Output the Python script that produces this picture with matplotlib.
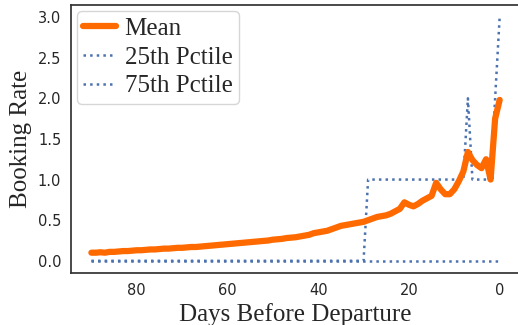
import matplotlib
matplotlib.use("Agg")
import matplotlib.pyplot as plt
import seaborn as sns

# days before departure, 90 down to 0
days = list(range(90, -1, -1))

mean_rate = [
    0.10, 0.10, 0.105, 0.10, 0.11, 0.11, 0.115, 0.12, 0.12, 0.125,   # 90-81
    0.13, 0.13, 0.135, 0.14, 0.14, 0.145, 0.15, 0.15, 0.155, 0.16,   # 80-71
    0.16, 0.165, 0.17, 0.17, 0.175, 0.18, 0.185, 0.19, 0.195, 0.20,  # 70-61
    0.205, 0.21, 0.215, 0.22, 0.225, 0.23, 0.235, 0.24, 0.245, 0.25, # 60-51
    0.26, 0.265, 0.27, 0.28, 0.285, 0.29, 0.30, 0.31, 0.32, 0.34,    # 50-41
    0.35, 0.36, 0.37, 0.39, 0.41, 0.43, 0.44, 0.45, 0.46, 0.47,      # 40-31
    0.48, 0.50, 0.52, 0.54, 0.55, 0.56, 0.58, 0.61, 0.64, 0.72,      # 30-21
    0.69, 0.67, 0.70, 0.74, 0.77, 0.80, 0.96, 0.88, 0.82, 0.82,      # 20-11
    0.88, 0.98, 1.10, 1.34, 1.24, 1.18, 1.14, 1.25, 1.00, 1.75,      # 10-1
    1.98,                                                           # 0
]

p25 = [0.0] * 91

# 0 until day 30, 1 from day 29, spikes at days 7 and 1-0
p75 = [0.0] * 61 + [1.0] * 22 + [2.0] + [1.0] * 5 + [2.0, 3.0]

sns.set_style("white")
plt.rcParams["font.family"] = ["DejaVu Sans"]

fig = plt.figure(figsize=(5.18, 3.25), dpi=100)
ax = fig.add_axes([0.137, 0.16, 0.867, 0.825])

ax.plot(days, mean_rate, color="#ff6a00", lw=4.5, label="Mean",
        solid_capstyle="round", zorder=3)
ax.plot(days, p25, color="#4c72b0", lw=1.8, ls=":", label="25th Pctile")
ax.plot(days, p75, color="#4c72b0", lw=1.8, ls=":", label="75th Pctile")

ax.invert_xaxis()
ax.set_xticks([80, 60, 40, 20, 0])
ax.set_yticks([0.0, 0.5, 1.0, 1.5, 2.0, 2.5, 3.0])
ax.tick_params(labelsize=10.5, colors=".15")

serif = ["Liberation Serif", "DejaVu Serif"]
ax.set_xlabel("Days Before Departure", fontsize=18, family=serif, color=".15")
ax.set_ylabel("Booking Rate", fontsize=18, family=serif, color=".15")

for s in ax.spines.values():
    s.set_color(".2")
    s.set_linewidth(1.25)

ax.legend(loc="upper left", prop={"family": serif, "size": 18},
          handlelength=1.3, handletextpad=0.35, borderpad=0.25,
          labelspacing=0.25, borderaxespad=0.25)

fig.savefig("out.png", dpi=100)
